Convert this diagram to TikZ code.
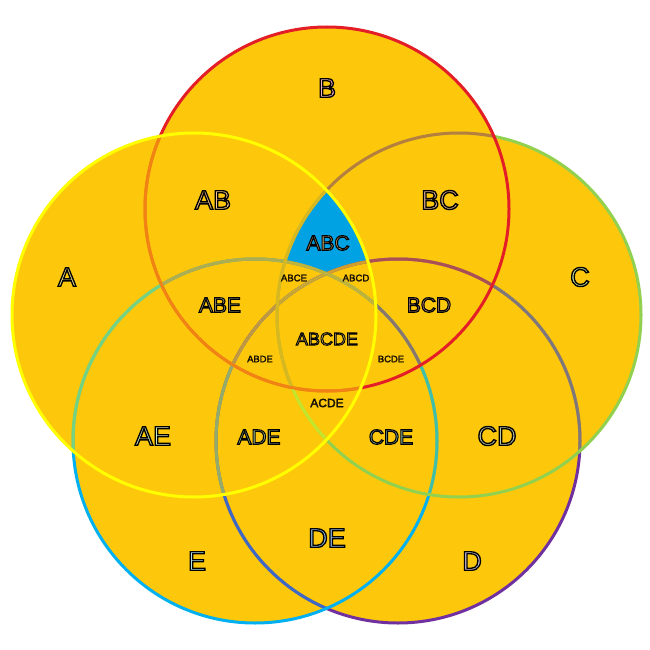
\documentclass[tikz,border=0pt]{standalone}
\usepackage{fontspec}
\setmainfont{Liberation Sans}
\definecolor{vorange}{HTML}{FDC80C}
\definecolor{vblue}{HTML}{00A2E3}
\definecolor{cA}{HTML}{FFFF00}
\definecolor{cB}{HTML}{E41E26}
\definecolor{cC}{HTML}{92D050}
\definecolor{cD}{HTML}{7030A0}
\definecolor{cE}{HTML}{00B0F0}
% text fills
\definecolor{tA}{HTML}{F8F0A0}
\definecolor{tB}{HTML}{F4B0C0}
\definecolor{tC}{HTML}{C8E6A0}
\definecolor{tD}{HTML}{D0C0E0}
\definecolor{tE}{HTML}{B0E0F0}
\definecolor{tAB}{HTML}{FAC890}
\definecolor{tBC}{HTML}{E0B090}
\definecolor{tAE}{HTML}{D0E8C0}
\definecolor{tCD}{HTML}{C0C8B0}
\definecolor{tDE}{HTML}{90B8E0}
\definecolor{tABE}{HTML}{D0C090}
\definecolor{tBCD}{HTML}{C89080}
\definecolor{tADE}{HTML}{B0D0A0}
\definecolor{tCDE}{HTML}{90C0B0}
\definecolor{tABC}{HTML}{D8B070}
\definecolor{tABCDE}{HTML}{C8B060}
\definecolor{tsmall}{HTML}{302008}
\newcommand{\olt}[4]{{\fontsize{#1}{#1}\selectfont\color{#2}\special{pdf:literal direct 0 0 0 RG #3 w 2 Tr}#4\special{pdf:literal direct 0 Tr}}}
\begin{document}
\begin{tikzpicture}[x=1pt,y=-1pt,
  ring/.style={line width=3pt},
  tint/.style={line width=3pt,opacity=0.45},
  lbl/.style={inner sep=0pt,anchor=center}]
\useasboundingbox[fill=white] (0,0) rectangle (650,650);
\def\R{182pt}
\coordinate (A) at (194,315);
\coordinate (B) at (327,209);
\coordinate (C) at (459,315);
\coordinate (D) at (398,441);
\coordinate (E) at (255,441);
% fills
\foreach \c in {A,B,C,D,E} \fill[vorange] (\c) circle[radius=\R];
% ABC region
\begin{scope}
  \clip (A) circle[radius=\R];
  \clip (B) circle[radius=\R];
  \clip (C) circle[radius=\R];
  \fill[vblue] (0,0) rectangle (650,650);
  \fill[vorange] (D) circle[radius=\R];
  \fill[vorange] (E) circle[radius=\R];
\end{scope}
% strokes, with later circles tinting earlier strokes
\draw[ring,cD] (D) circle[radius=\R];
\begin{scope}
  \clip (E) circle[radius=\R];
  \draw[tint,cE] (D) circle[radius=\R];
\end{scope}
\draw[ring,cE] (E) circle[radius=\R];
\begin{scope}
  \clip (C) circle[radius=\R];
  \draw[tint,cC] (D) circle[radius=\R] (E) circle[radius=\R];
\end{scope}
\draw[ring,cC] (C) circle[radius=\R];
\begin{scope}
  \clip (B) circle[radius=\R];
  \draw[tint,cB] (D) circle[radius=\R] (E) circle[radius=\R] (C) circle[radius=\R];
\end{scope}
\draw[ring,cB] (B) circle[radius=\R];
\begin{scope}
  \clip (A) circle[radius=\R];
  \draw[tint,cA] (D) circle[radius=\R] (E) circle[radius=\R] (C) circle[radius=\R] (B) circle[radius=\R];
\end{scope}
\draw[ring,cA] (A) circle[radius=\R];
% labels
\node[lbl] (lB) at (327,88) {\olt{27}{tB}{1.35}{B}};
\node[lbl] (lA) at (67,277) {\olt{27}{tA}{1.35}{A}};
\node[lbl] (lC) at (580,277) {\olt{27}{tC}{1.35}{C}};
\node[lbl] (lD) at (472,561) {\olt{27}{tD}{1.35}{D}};
\node[lbl] (lE) at (197,561) {\olt{27}{tE}{1.35}{E}};
\node[lbl] (lAB) at (213,200) {\olt{27}{tAB}{1.35}{AB}};
\node[lbl] (lBC) at (440,200) {\olt{27}{tBC}{1.35}{BC}};
\node[lbl] (lAE) at (153,436) {\olt{27}{tAE}{1.35}{AE}};
\node[lbl] (lCD) at (497,436) {\olt{27}{tCD}{1.35}{CD}};
\node[lbl] (lDE) at (327,538) {\olt{27}{tDE}{1.35}{DE}};
\node[lbl] (lABC) at (328,243) {\olt{21}{tABC}{1.1}{ABC}};
\node[lbl] (lABE) at (220,305) {\olt{21}{tABE}{1.1}{ABE}};
\node[lbl] (lBCD) at (429,305) {\olt{21}{tBCD}{1.1}{BCD}};
\node[lbl] (lADE) at (259,437) {\olt{21}{tADE}{1.1}{ADE}};
\node[lbl] (lCDE) at (391,437) {\olt{21}{tCDE}{1.1}{CDE}};
\node[lbl] (lABCDE) at (327,339) {\olt{18}{tABCDE}{0.9}{ABCDE}};
\node[lbl] (lACDE) at (327,403) {\olt{12}{tsmall}{0.3}{ACDE}};
\node[lbl] (lABCE) at (294,278) {\olt{9.6}{tsmall}{0.2}{ABCE}};
\node[lbl] (lABCD) at (356,278) {\olt{9.6}{tsmall}{0.2}{ABCD}};
\node[lbl] (lABDE) at (260,359) {\olt{9.4}{tsmall}{0.2}{ABDE}};
\node[lbl] (lBCDE) at (391,359) {\olt{9.4}{tsmall}{0.2}{BCDE}};
\end{tikzpicture}
\end{document}
